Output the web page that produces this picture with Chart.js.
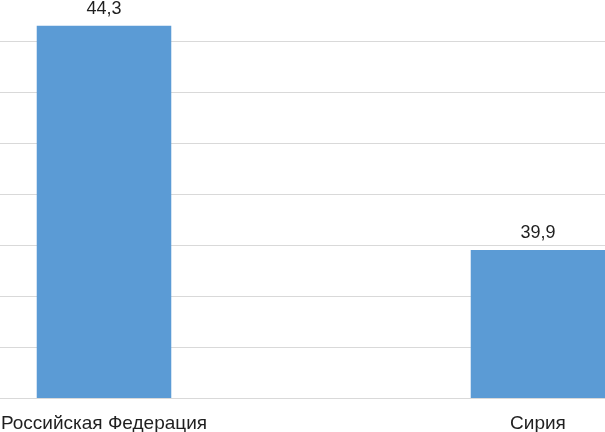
<!DOCTYPE html>
<html>
<head>
<meta charset="utf-8">
<script src="https://cdn.jsdelivr.net/npm/chart.js@4/dist/chart.umd.min.js"></script>
<style>
  html, body { margin: 0; padding: 0; background: #fff; overflow: hidden; }
  body { width: 605px; height: 432px; position: relative; }
  #wrap { position: absolute; left: -113px; top: -10px; width: 868px; height: 442px; }
</style>
</head>
<body>
<div id="wrap"><canvas id="c"></canvas></div>
<script>
const categories = ["Российская Федерация", "Сирия"];
const values = [44.3, 39.9];
const yMin = 37;
const yMax = 45;

const valueLabels = {
  id: 'valueLabels',
  afterDatasetsDraw(chart) {
    const ctx = chart.ctx;
    const meta = chart.getDatasetMeta(0);
    ctx.save();
    ctx.font = '18px "Liberation Sans", Arial, sans-serif';
    ctx.fillStyle = '#1f1f1f';
    ctx.textAlign = 'center';
    ctx.textBaseline = 'alphabetic';
    meta.data.forEach((bar, i) => {
      const txt = values[i].toFixed(1).replace('.', ',');
      ctx.fillText(txt, bar.x, bar.y - 12);
    });
    ctx.restore();
  }
};

new Chart(document.getElementById('c'), {
  type: 'bar',
  data: {
    labels: categories,
    datasets: [{
      data: values,
      backgroundColor: '#5b9bd5',
      borderWidth: 0,
      barPercentage: 0.62,
      categoryPercentage: 0.5
    }]
  },
  options: {
    responsive: true,
    maintainAspectRatio: false,
    animation: false,
    layout: { padding: 0 },
    plugins: { legend: { display: false }, tooltip: { enabled: false } },
    scales: {
      x: {
        grid: { display: false, drawTicks: false },
        border: { display: false },
        ticks: {
          padding: 14,
          color: '#1f1f1f',
          font: { family: '"Liberation Sans", Arial, sans-serif', size: 19 },
          maxRotation: 0,
          autoSkip: false
        },
        afterFit(scale) { scale.height = 34; }
      },
      y: {
        min: yMin,
        max: yMax,
        ticks: { display: false, stepSize: 1 },
        grid: { color: '#d9d9d9', lineWidth: 1, drawTicks: false },
        border: { display: false },
        afterFit(scale) { scale.width = 0; }
      }
    }
  },
  plugins: [valueLabels]
});
</script>
</body>
</html>
